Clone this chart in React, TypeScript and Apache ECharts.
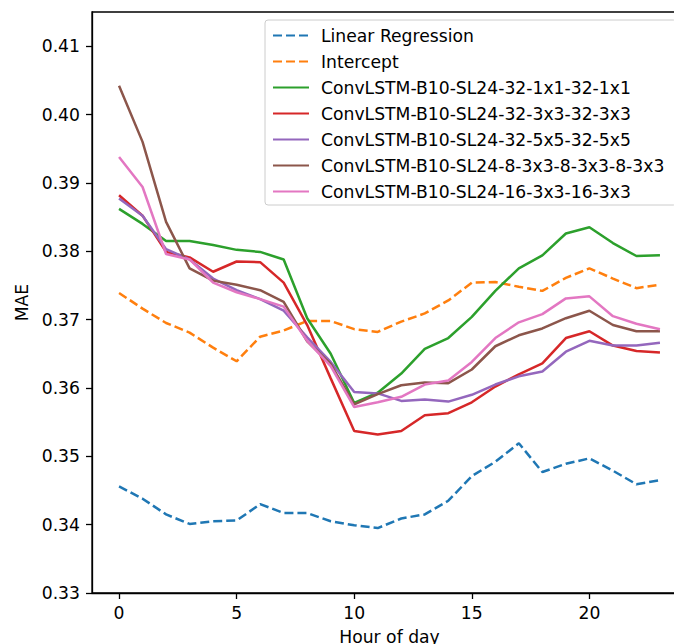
import React, { useEffect, useRef } from "react";
import * as echarts from "echarts";

const hours = [0,1,2,3,4,5,6,7,8,9,10,11,12,13,14,15,16,17,18,19,20,21,22,23];
const xTicks = [0, 5, 10, 15, 20];
const yTicks = [0.33, 0.34, 0.35, 0.36, 0.37, 0.38, 0.39, 0.40, 0.41];

const linearRegression = [0.3456,0.3438,0.3415,0.3401,0.3405,0.3406,0.3430,0.3417,0.3417,0.3405,0.3399,0.3395,0.3409,0.3415,0.3435,0.3471,0.3492,0.3519,0.3477,0.3489,0.3497,0.3479,0.3459,0.3465];
const intercept = [0.3739,0.3716,0.3695,0.3681,0.3659,0.3639,0.3675,0.3684,0.3698,0.3698,0.3686,0.3682,0.3697,0.3709,0.3728,0.3754,0.3755,0.3748,0.3742,0.3761,0.3775,0.3760,0.3746,0.3751];
const conv1x1 = [0.3862,0.3840,0.3815,0.3815,0.3809,0.3802,0.3799,0.3788,0.3702,0.3650,0.3578,0.3593,0.3621,0.3657,0.3673,0.3704,0.3742,0.3775,0.3794,0.3826,0.3835,0.3812,0.3793,0.3794];
const conv3x3 = [0.3882,0.3852,0.3799,0.3791,0.3770,0.3785,0.3784,0.3754,0.3692,0.3614,0.3537,0.3532,0.3537,0.3560,0.3563,0.3579,0.3602,0.3620,0.3636,0.3673,0.3683,0.3662,0.3654,0.3652];
const conv5x5 = [0.3877,0.3852,0.3803,0.3788,0.3760,0.3743,0.3730,0.3713,0.3674,0.3638,0.3594,0.3592,0.3581,0.3583,0.3580,0.3590,0.3605,0.3617,0.3624,0.3653,0.3669,0.3662,0.3662,0.3666];
const conv8 = [0.4042,0.3960,0.3843,0.3775,0.3757,0.3751,0.3743,0.3726,0.3668,0.3635,0.3576,0.3591,0.3604,0.3608,0.3607,0.3627,0.3661,0.3677,0.3687,0.3702,0.3713,0.3692,0.3683,0.3683];
const conv16 = [0.3938,0.3894,0.3796,0.3788,0.3754,0.3740,0.3730,0.3719,0.3669,0.3632,0.3572,0.3579,0.3587,0.3605,0.3611,0.3638,0.3673,0.3696,0.3708,0.3731,0.3734,0.3705,0.3694,0.3686];

const seriesNames = [
  "Linear Regression",
  "Intercept",
  "ConvLSTM-B10-SL24-32-1x1-32-1x1",
  "ConvLSTM-B10-SL24-32-3x3-32-3x3",
  "ConvLSTM-B10-SL24-32-5x5-32-5x5",
  "ConvLSTM-B10-SL24-8-3x3-8-3x3-8-3x3",
  "ConvLSTM-B10-SL24-16-3x3-16-3x3",
];
const seriesValues = [linearRegression, intercept, conv1x1, conv3x3, conv5x5, conv8, conv16];
const colors = ["#1f77b4", "#ff7f0e", "#2ca02c", "#d62728", "#9467bd", "#8c564b", "#e377c2"];
const dashed = [true, true, false, false, false, false, false];

const FONT = "DejaVu Sans";
const FS = 17.2;

export default function App() {
  const ref = useRef<HTMLDivElement>(null);
  useEffect(() => {
    document.body.style.margin = "0";
    const chart = echarts.init(ref.current!, null, { renderer: "svg" });
    const series = seriesNames.map((name, i) => ({
      name,
      type: "line",
      data: hours.map((h, j) => [h, seriesValues[i][j]]),
      symbol: "none",
      showSymbol: false,
      color: colors[i],
      lineStyle: {
        color: colors[i],
        width: 2.5,
        type: dashed[i] ? [9, 4] : "solid",
      },
      z: 2 + i,
    }));
    chart.setOption({
      animation: false,
      backgroundColor: "#fff",
      textStyle: { fontFamily: FONT },
      grid: {
        left: 92,
        top: 12,
        bottom: 51,
        right: 13,
        outerBoundsMode: "none",
        containLabel: false,
        show: true,
        borderColor: "#000",
        borderWidth: 1.3,
        backgroundColor: "transparent",
      },
      legend: {
        orient: "vertical",
        left: 265,
        top: 20,
        padding: [7, 12, 5, 7],
        itemWidth: 36,
        itemHeight: 14,
        itemGap: 9.0,
        backgroundColor: "rgba(255,255,255,0.8)",
        borderColor: "#cccccc",
        borderWidth: 1,
        borderRadius: 3,
        itemStyle: { opacity: 0, borderWidth: 0 },
        textStyle: { fontFamily: FONT, fontSize: FS, color: "#000", padding: [0, 0, 0, 7] },
        data: seriesNames,
      },
      xAxis: {
        type: "value",
        min: -1.15,
        max: 24.15,
        name: "Hour of day",
        nameLocation: "middle",
        nameGap: 35,
        nameTextStyle: { fontFamily: FONT, fontSize: FS, color: "#000", verticalAlign: "top" },
        axisLine: { show: true, onZero: false, lineStyle: { color: "#000", width: 1.3 } },
        axisTick: { show: true, inside: false, length: 6, customValues: xTicks, lineStyle: { color: "#000", width: 1.3 } },
        axisLabel: { customValues: xTicks, margin: 11, fontFamily: FONT, fontSize: FS, color: "#000", showMinLabel: true, showMaxLabel: true },
        splitLine: { show: false },
      },
      yAxis: {
        type: "value",
        min: 0.33,
        max: 0.415,
        name: "MAE",
        nameLocation: "middle",
        nameGap: 62,
        nameTextStyle: { fontFamily: FONT, fontSize: FS, color: "#000" },
        axisLine: { show: true, onZero: false, lineStyle: { color: "#000", width: 1.3 } },
        axisTick: { show: true, inside: false, length: 6, customValues: yTicks, lineStyle: { color: "#000", width: 1.3 } },
        axisLabel: {
          customValues: yTicks,
          margin: 12,
          fontFamily: FONT,
          fontSize: FS,
          color: "#000",
          formatter: (v: number) => v.toFixed(2),
        },
        splitLine: { show: false },
      },
      series,
    });
    return () => chart.dispose();
  }, []);
  return (
    <div style={{ position: "absolute", left: 0, top: 0, width: 674, height: 644, overflow: "hidden" }}>
      <div ref={ref} style={{ width: 700, height: 644 }} />
    </div>
  );
}
